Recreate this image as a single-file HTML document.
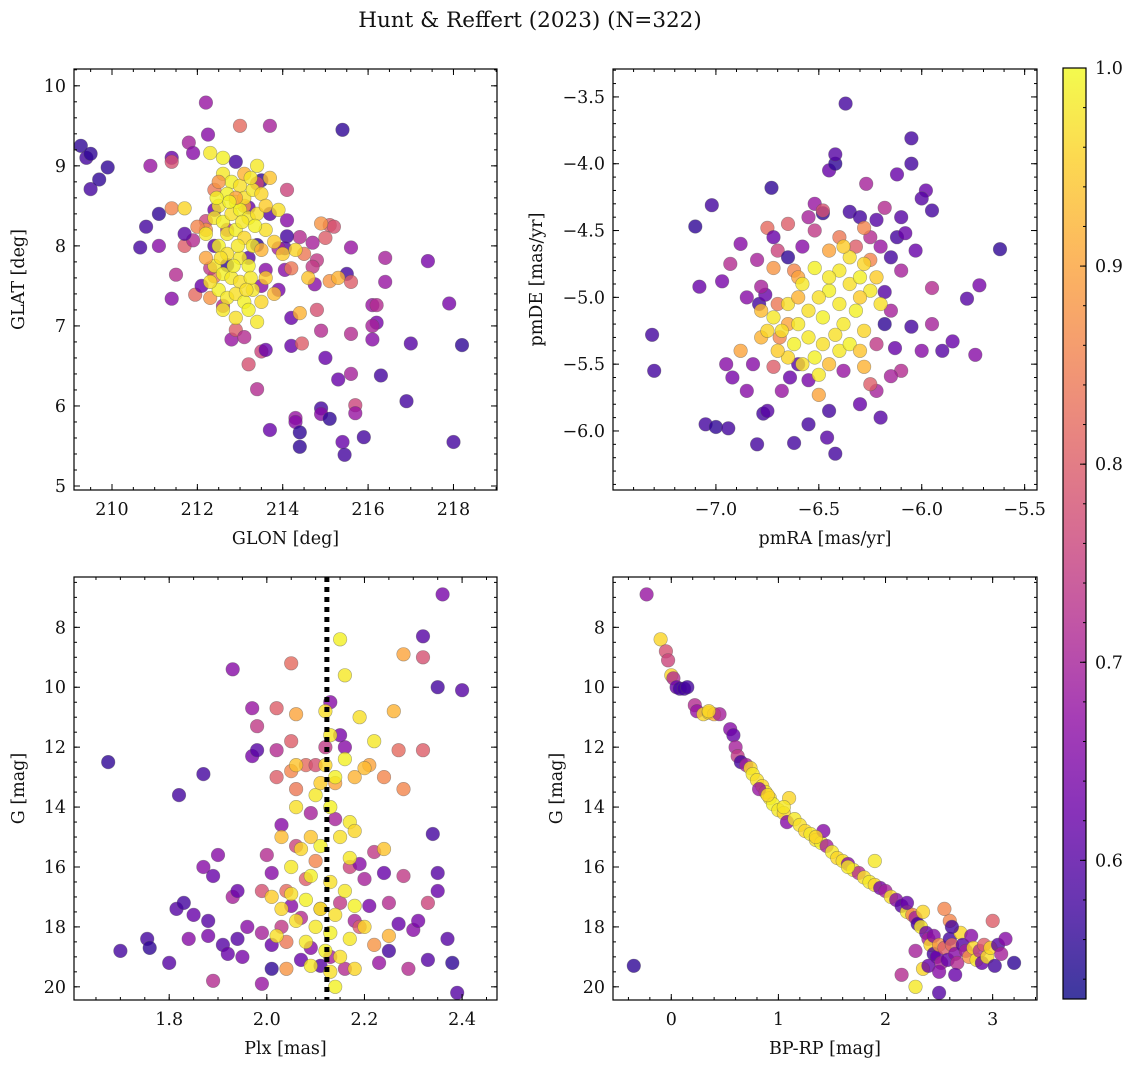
<!DOCTYPE html>
<html><head><meta charset="utf-8">
<style>
html,body{margin:0;padding:0;background:#fff;}
svg{display:block;font-family:"DejaVu Serif","Liberation Serif",serif;}
</style></head>
<body>
<svg id="fig" width="1136" height="1067" viewBox="0 0 1136 1067" xmlns="http://www.w3.org/2000/svg">
<text x="530" y="27" font-size="21.5" text-anchor="middle" fill="#111">Hunt &amp; Reffert (2023) (N=322)</text>
</svg>
<script>
// ---------- data ----------
const glonGlat = [
[209.27,9.25,.56],[209.4,9.1,.58],[209.5,9.15,.56],[209.5,8.71,.58],[209.7,8.83,.56],[209.9,8.98,.56],[210.9,9.0,.68],[211.4,9.1,.62],[212.2,9.79,.68],[212.25,9.39,.66],[213.0,9.5,.82],[213.7,9.5,.70],[215.4,9.45,.56],[211.8,9.29,.70],[211.9,9.16,.66],[210.66,7.98,.58],[210.8,8.24,.58],[211.1,8.4,.56],[211.1,8.0,.66],[211.4,8.47,.86],[211.4,9.05,.78],[211.7,8.47,.96],[211.5,7.64,.72],[211.4,7.34,.66],[211.7,8.0,.80],[211.9,8.07,.72],[211.95,7.39,.82],[212.1,7.5,.62],[212.3,9.16,.98],[212.8,6.83,.68],[212.9,6.95,.80],[213.1,6.86,.72],[213.2,6.52,.78],[213.4,6.21,.72],[213.5,6.68,.76],[213.6,6.7,.62],[213.7,5.7,.62],[214.2,7.1,.62],[214.2,6.75,.62],[214.4,7.16,.92],[214.45,6.78,.80],[214.3,5.85,.68],[214.3,5.8,.66],[214.4,5.49,.56],[214.4,5.67,.56],[214.9,5.97,.58],[214.9,5.9,.66],[215.1,5.84,.56],[214.9,6.94,.72],[214.8,7.2,.78],[215.0,6.6,.62],[215.3,6.33,.62],[215.4,5.55,.62],[215.45,5.39,.58],[215.6,6.9,.72],[215.6,6.4,.70],[215.7,6.01,.76],[215.7,5.91,.68],[215.9,5.61,.58],[216.1,7.26,.68],[216.2,7.26,.72],[216.2,7.04,.64],[216.1,7.0,.70],[216.1,6.83,.66],[216.3,6.38,.58],[216.4,7.55,.68],[216.4,7.85,.70],[216.9,6.06,.58],[217.0,6.78,.60],[217.4,7.81,.64],[217.9,7.28,.64],[218.0,5.55,.58],[218.2,6.76,.56],[215.6,7.98,.68],[215.5,7.65,.58],[215.6,7.55,.80],[215.1,7.56,.88],[215.1,8.26,.80],[215.2,8.24,.78],[215.0,8.1,.80],[214.8,7.82,.74],[214.75,7.52,.66],[214.7,7.74,.74],[214.5,7.9,.84],[214.4,8.11,.72],[214.7,8.04,.70],[214.1,8.32,.66],[214.1,8.12,.58],[214.1,8.7,.76],[214.05,7.97,.60],[214.05,7.7,.66],[213.9,7.97,.70],[213.7,8.4,.60],[213.5,8.82,.56],[213.4,8.78,.76],[213.2,8.48,.62],[212.9,9.05,.58],[213.1,8.5,.88],[213.5,7.5,.66],[213.9,7.45,.64],[214.2,7.72,.84],[213.6,7.7,.66],[212.7,7.76,.56],[213.2,7.85,.60],[213.4,8.01,.56],[212.7,8.2,.72],[212.4,8.45,.62],[212.2,8.31,.76],[212.4,8.0,.60],[212.4,7.62,.84],[212.3,7.72,.74],[212.3,7.35,.88],[212.6,7.25,.72],[212.2,8.2,.88],[212.4,8.7,.84],[211.7,8.15,.60],[212.0,8.24,.86],
[212.6,8.9,.98],[212.8,8.8,.99],[213.0,8.75,.97],[212.7,8.65,.99],[212.5,8.5,.98],[212.9,8.55,.99],[213.1,8.6,.97],[213.3,8.7,.98],[213.5,8.65,.96],[212.4,8.35,.98],[212.6,8.3,.99],[212.8,8.4,.97],[213.0,8.45,.99],[213.2,8.35,.98],[213.4,8.4,.97],[213.6,8.5,.95],[212.7,8.15,.98],[212.9,8.2,.99],[213.1,8.1,.96],[213.3,8.0,.98],[212.5,8.0,.99],[213.6,8.2,.97],[213.8,8.05,.95],[213.4,9.0,.98],[212.6,9.1,.99],[213.7,8.85,.94],[212.7,7.9,.97],[213.0,7.85,.98],[213.2,7.75,.99],[212.4,7.75,.98],[212.6,7.65,.99],[212.8,7.6,.98],[213.0,7.55,.97],[212.5,7.45,.99],[212.7,7.35,.98],[212.9,7.4,.97],[213.1,7.3,.99],[213.3,7.45,.98],[213.5,7.3,.96],[212.6,7.2,.98],[212.9,7.1,.97],[213.2,7.2,.99],[213.4,7.05,.98],[212.3,7.55,.97],[213.6,7.6,.95],[214.0,7.9,.95],[214.3,7.95,.96],[213.9,8.45,.97],[212.2,8.15,.98],[212.9,8.6,.9],[213.1,8.9,.92],[212.5,8.8,.88],[213.5,7.95,.92],[212.2,7.85,.9],[213.8,7.4,.93],[214.6,7.6,.94],[215.3,7.6,.92],[214.9,8.28,.88],
[212.75,8.55,.99],[213.05,8.3,.98],[212.85,7.75,.99],[213.25,7.6,.98],[212.55,7.85,.97],[213.35,8.25,.99],[212.95,8.0,.98],[213.15,7.45,.97],[212.45,8.6,.99],[213.25,8.85,.98]
];
const pmraPmde = [
[-7.31,-5.28,.58],[-7.30,-5.55,.58],[-7.10,-4.47,.56],[-7.02,-4.31,.58],[-7.08,-4.92,.62],[-6.88,-4.60,.66],[-6.93,-4.75,.72],[-6.97,-4.88,.64],[-7.05,-5.95,.58],[-7.00,-5.97,.56],[-6.94,-5.98,.58],[-6.95,-5.50,.66],[-6.92,-5.60,.64],[-6.88,-5.40,.90],[-6.85,-5.70,.66],[-6.80,-6.10,.58],[-6.77,-5.87,.58],[-6.75,-5.85,.60],[-6.79,-5.05,.58],[-6.76,-4.98,.62],[-6.73,-4.18,.56],[-6.75,-4.48,.82],[-6.72,-4.55,.62],[-6.70,-4.65,.76],[-6.80,-4.72,.70],[-6.65,-4.45,.80],[-6.62,-4.80,.86],[-6.55,-4.40,.70],[-6.52,-4.30,.68],[-6.48,-4.37,.56],[-6.45,-4.05,.62],[-6.42,-4.00,.56],[-6.42,-3.93,.60],[-6.37,-3.55,.58],[-6.35,-4.36,.58],[-6.30,-4.40,.58],[-6.27,-4.15,.70],[-6.22,-4.42,.60],[-6.18,-4.33,.72],[-6.12,-4.08,.62],[-6.10,-4.40,.60],[-6.05,-4.00,.58],[-6.05,-3.81,.58],[-5.98,-4.20,.62],[-6.00,-4.26,.60],[-5.95,-4.35,.58],[-5.62,-4.64,.56],[-5.72,-4.91,.64],[-5.78,-5.01,.60],[-5.85,-5.33,.62],[-5.90,-5.40,.60],[-5.74,-5.43,.66],[-5.95,-5.20,.70],[-5.95,-4.93,.72],[-6.03,-4.65,.62],[-6.05,-5.22,.58],[-6.00,-5.40,.66],[-6.10,-5.55,.72],[-6.15,-5.59,.70],[-6.13,-5.38,.62],[-6.18,-5.20,.56],[-6.22,-5.70,.70],[-6.30,-5.80,.62],[-6.38,-5.55,.68],[-6.45,-5.85,.58],[-6.42,-6.17,.58],[-6.46,-6.05,.60],[-6.50,-5.73,.90],[-6.55,-5.62,.64],[-6.60,-5.50,.60],[-6.64,-5.60,.62],[-6.68,-5.70,.68],[-6.62,-6.09,.58],[-6.55,-5.95,.58],[-6.72,-5.52,.80],[-6.69,-5.30,.86],[-6.25,-5.65,.80],[-6.20,-5.90,.60],[-6.28,-5.52,.92],[-6.10,-4.80,.70],[-6.15,-4.70,.58],[-6.20,-4.62,.68],[-6.25,-4.55,.72],[-6.12,-4.55,.58],[-6.08,-4.52,.62],[-6.18,-4.96,.60],[-6.25,-4.72,.86],[-6.15,-5.10,.70],[-6.22,-5.35,.74],[-6.32,-4.62,.80],[-6.40,-4.55,.84],[-6.45,-4.65,.90],[-6.52,-4.50,.74],[-6.58,-4.62,.66],[-6.65,-4.70,.56],[-6.60,-4.85,.90],[-6.72,-4.78,.88],[-6.78,-4.92,.70],[-6.85,-5.00,.66],[-6.70,-5.05,.84],[-6.65,-5.20,.90],[-6.78,-5.30,.92],[-6.82,-5.50,.66],[-6.48,-4.35,.78],[-6.28,-4.48,.86],
[-6.40,-4.80,.98],[-6.35,-4.90,.97],[-6.30,-4.85,.99],[-6.25,-4.95,.98],[-6.45,-4.95,.99],[-6.50,-5.00,.97],[-6.40,-5.05,.98],[-6.32,-5.10,.99],[-6.55,-5.10,.97],[-6.60,-5.20,.98],[-6.48,-5.15,.99],[-6.38,-5.20,.98],[-6.28,-5.25,.96],[-6.55,-5.30,.98],[-6.62,-5.35,.99],[-6.48,-5.35,.97],[-6.40,-5.40,.98],[-6.52,-5.45,.99],[-6.68,-5.25,.97],[-6.72,-5.15,.98],[-6.75,-5.25,.96],[-6.45,-4.85,.98],[-6.35,-4.70,.97],[-6.28,-4.75,.96],[-6.52,-4.78,.99],[-6.58,-4.90,.98],[-6.42,-5.28,.97],[-6.35,-5.35,.99],[-6.58,-5.50,.97],[-6.50,-5.58,.98],[-6.65,-5.45,.96],[-6.30,-5.00,.95],[-6.20,-5.05,.97],[-6.22,-4.85,.95],[-6.65,-5.05,.97],[-6.60,-5.00,.92],[-6.45,-5.50,.93],[-6.30,-5.40,.94],[-6.38,-4.62,.95],[-6.70,-5.40,.95],[-6.78,-5.10,.93]
];
const plxG = [
[1.675,12.5,.56],[1.70,18.8,.58],[1.755,18.4,.58],[1.76,18.7,.56],[1.80,19.2,.60],[1.815,17.4,.60],[1.82,13.6,.58],[1.83,17.2,.58],[1.84,18.4,.66],[1.85,17.6,.62],[1.87,12.9,.58],[1.87,16.0,.66],[1.88,17.8,.60],[1.89,16.3,.62],[1.88,18.3,.64],[1.89,19.8,.72],[1.90,15.6,.66],[1.91,18.6,.60],[1.92,18.9,.62],[1.93,9.4,.66],[1.93,17.0,.70],[1.94,16.8,.62],[1.94,18.4,.60],[1.95,19.0,.64],[1.96,18.0,.66],[1.97,12.3,.64],[1.98,12.1,.60],[1.97,10.7,.68],[1.98,11.3,.74],[1.99,19.9,.68],[1.99,18.2,.70],[1.99,16.8,.78],[2.00,15.6,.72],[2.01,16.2,.66],[2.01,18.6,.62],[2.01,19.4,.56],[2.02,10.7,.80],[2.02,12.1,.72],[2.02,13.0,.80],[2.03,14.6,.66],[2.03,18.0,.74],[2.04,19.4,.88],[2.04,18.5,.84],[2.04,16.8,.82],[2.05,9.2,.82],[2.05,11.8,.80],[2.05,12.8,.86],[2.06,10.9,.90],[2.06,13.4,.84],[2.06,15.3,.76],[2.07,17.7,.72],[2.07,19.1,.62],[2.08,12.6,.82],[2.08,16.4,.80],[2.09,14.2,.70],[2.09,18.7,.66],[2.10,12.6,.78],[2.10,15.8,.86],[2.11,19.3,.60],[2.11,17.4,.82],[2.13,19.0,.70],[2.14,13.2,.90],[2.15,17.2,.74],[2.16,12.0,.66],[2.16,19.4,.72],[2.17,16.0,.76],[2.18,17.8,.70],[2.18,13.0,.92],[2.19,15.9,.66],[2.19,18.0,.80],[2.20,16.4,.70],[2.21,12.6,.90],[2.21,17.3,.64],[2.22,18.6,.88],[2.22,15.5,.74],[2.23,19.2,.68],[2.24,16.2,.62],[2.24,13.0,.86],[2.25,17.2,.72],[2.25,18.8,.58],[2.26,10.8,.92],[2.27,17.9,.62],[2.27,12.1,.82],[2.28,8.9,.90],[2.28,13.4,.86],[2.28,16.3,.74],[2.29,19.4,.72],[2.30,18.1,.66],[2.31,17.8,.64],[2.32,8.3,.60],[2.32,9.0,.78],[2.32,12.1,.80],[2.33,17.2,.76],[2.33,19.1,.60],[2.34,14.9,.58],[2.35,10.0,.58],[2.35,16.2,.60],[2.35,16.8,.62],[2.36,6.9,.64],[2.37,18.4,.60],[2.38,19.2,.56],[2.39,20.2,.60],[2.40,10.1,.60],[2.12,12.0,.74],[2.13,10.5,.66],[2.15,11.6,.64],[2.14,14.4,.70],[2.05,17.3,.66],
[2.15,8.4,.99],[2.16,9.6,.98],[2.12,10.8,.97],[2.13,11.6,.98],[2.16,12.4,.99],[2.19,11.0,.97],[2.22,11.8,.98],[2.12,12.6,.96],[2.14,13.0,.99],[2.10,13.6,.98],[2.06,14.0,.97],[2.13,14.0,.99],[2.17,14.5,.98],[2.15,15.0,.97],[2.11,15.3,.99],[2.07,15.4,.96],[2.17,15.7,.98],[2.05,16.0,.98],[2.09,16.3,.99],[2.13,16.5,.97],[2.16,16.8,.98],[2.05,16.9,.97],[2.08,17.1,.99],[2.11,17.4,.98],[2.14,17.6,.97],[2.18,17.3,.99],[2.03,17.4,.96],[2.06,17.8,.97],[2.10,18.0,.98],[2.13,18.2,.99],[2.17,18.4,.98],[2.20,18.0,.96],[2.02,18.3,.97],[2.08,18.5,.98],[2.12,18.8,.99],[2.15,19.0,.97],[2.18,19.4,.96],[2.09,19.3,.98],[2.14,20.0,.99],[2.13,19.5,.97],[2.11,13.2,.95],[2.09,15.0,.94],[2.18,14.8,.96],[2.20,12.7,.93],[2.06,12.6,.94],[2.03,15.0,.93],[2.01,17.0,.95],[2.24,15.4,.94],[2.25,18.3,.92]
];
const bprpG = [
[-0.23,6.9,.68],[-0.35,19.3,.56],[2.28,20.0,.98],[2.5,20.2,.6],
[-0.1,8.4,.96],[-0.05,8.8,.78],[-0.03,9.1,.76],[0.0,9.6,.96],[0.02,9.7,.72],[0.05,10.0,.62],[0.08,10.05,.58],[0.12,10.05,.58],[0.22,10.6,.72],[0.24,10.8,.68],[0.30,10.9,.96],[0.35,10.85,.96],[0.40,10.9,.92],[0.45,10.9,.70],[0.55,11.4,.66],[0.58,11.6,.62],[0.60,12.0,.70],[0.62,12.3,.74],[0.65,12.5,.58],[0.70,12.6,.70],[0.74,12.7,.96],[0.76,12.9,.98],[0.80,13.1,.97],[0.85,13.3,.96],[0.88,13.5,.98],[0.82,13.4,.68],[0.92,13.7,.97],[0.95,13.9,.99],[1.00,14.1,.98],[1.05,14.2,.96],[1.10,13.7,.96],[1.08,14.5,.66],[1.15,14.4,.98],[1.20,14.6,.97],[1.25,14.8,.96],[1.30,14.9,.98],[1.35,15.1,.97],[1.40,15.2,.99],[1.42,14.8,.66],[1.45,15.3,.70],[1.50,15.5,.98],[1.55,15.7,.96],[1.60,15.8,.97],[1.65,15.9,.66],[1.70,16.1,.98],[1.75,16.2,.72],[1.80,16.35,.97],[1.85,16.5,.98],[1.90,16.6,.96],[1.90,15.8,.98],[1.95,16.7,.64],[2.00,16.8,.70],[2.05,17.0,.97],[2.10,17.1,.66],[2.15,17.3,.60],[2.20,17.5,.98],[2.25,17.6,.86],[2.28,17.7,.70],[2.30,17.9,.58],[2.33,18.0,.98],[2.35,17.5,.96],[2.38,18.2,.62],[2.40,18.4,.70],[2.42,18.6,.96],[2.45,18.9,.58],[2.45,18.3,.66],[2.48,19.0,.62],[2.50,18.6,.88],[2.52,19.2,.70],[2.55,18.7,.80],[2.58,19.1,.62],[2.60,17.8,.86],[2.60,18.4,.58],[2.62,18.6,.82],[2.65,18.9,.66],[2.67,19.2,.72],[2.70,18.2,.96],[2.72,18.6,.60],[2.75,18.8,.70],[2.78,19.0,.88],[2.80,18.3,.66],[2.82,18.7,.96],[2.85,19.1,.98],[2.88,18.8,.72],[2.90,19.2,.62],[2.92,18.6,.80],[2.95,19.0,.97],[2.98,18.7,.96],[3.00,17.8,.80],[3.02,19.3,.58],[3.05,18.6,.60],[3.08,18.9,.70],[3.12,18.4,.66],[3.20,19.2,.56],[2.28,18.8,.70],[2.55,17.4,.86],[2.35,19.4,.96],[2.40,19.3,.62],[2.15,19.6,.72],[2.65,19.6,.62],[2.50,19.5,.66],[2.20,17.2,.62],[1.65,16.0,.98],[1.35,15.0,.96],[1.05,14.0,.98],[0.9,13.6,.96],[0.15,10.0,.58],[0.35,10.8,.96],[2.62,18.0,.58]
];
const plxRef = [2.123];
const ticksGlon = [210,212,214,216,218];
const ticksGlat = [5,6,7,8,9,10];
const ticksPmra = [-7.0,-6.5,-6.0,-5.5];
const ticksPmde = [-6.0,-5.5,-5.0,-4.5,-4.0,-3.5];
const ticksPlx = [1.8,2.0,2.2,2.4];
const ticksG = [8,10,12,14,16,18,20];
const ticksBprp = [0,1,2,3];
const ticksCbar = [0.6,0.7,0.8,0.9,1.0];
const cRange = [0.530,1.0];

// ---------- helpers ----------
const svg = document.getElementById('fig');
const NS = 'http://www.w3.org/2000/svg';
const FS = 17.5;
function mk(tag, attrs, parent){const e=document.createElementNS(NS,tag);for(const k in attrs)e.setAttribute(k,attrs[k]);(parent||svg).appendChild(e);return e;}
const plasma=[[13,8,135],[65,4,157],[106,0,168],[143,13,164],[177,42,144],[204,71,120],[225,100,98],[242,132,75],[252,166,54],[252,206,37],[240,249,33]];
function cmap(v){let t=(v-cRange[0])/(cRange[1]-cRange[0]);t=Math.max(0,Math.min(1,t))*10;const i=Math.min(9,Math.floor(t)),f=t-i;const a=plasma[i],b=plasma[i+1];return 'rgb('+a.map((c,j)=>Math.round(c+(b[j]-c)*f)).join(',')+')';}
function fmt(v,d){const s=Math.abs(v).toFixed(d);return (v<0?'\u2212':'')+s;}

function panel(cfg){
  const g=mk('g',{});
  
  
  const {x0,x1,y0,y1,xd,yd}=cfg;
  const sx=v=>x0+(v-xd[0])/(xd[1]-xd[0])*(x1-x0);
  const sy=v=>y1-(v-yd[0])/(yd[1]-yd[0])*(y1-y0);
  const clip=mk('clipPath',{id:'clip-'+cfg.name},g);
  mk('rect',{x:x0,y:y0,width:x1-x0,height:y1-y0},clip);
  const pts=mk('g',{'clip-path':'url(#clip-'+cfg.name+')'},g);
  
  
  cfg.data.forEach(d=>{
    const c=mk('circle',{cx:sx(d[0]).toFixed(1),cy:sy(d[1]).toFixed(1),r:6.8,fill:cmap(d[2]),'fill-opacity':0.8,stroke:'#555','stroke-opacity':0.5,'stroke-width':0.6},pts);
    
    
  });
  if(cfg.vline){cfg.vline.forEach(v=>{
    const l=mk('line',{x1:sx(v),x2:sx(v),y1:y0,y2:y1,stroke:'#000','stroke-width':5,'stroke-dasharray':'5 5'},g);
    
    
  });}
  const fr=mk('rect',{x:x0,y:y0,width:x1-x0,height:y1-y0,fill:'none',stroke:'#000','stroke-width':1.2},g);
  
  
  const tk=mk('g',{stroke:'#000','stroke-width':1},g);
  const xmin=Math.min(xd[0],xd[1]),xmax=Math.max(xd[0],xd[1]);
  for(let v=Math.ceil(xmin/cfg.xminor)*cfg.xminor;v<=xmax+1e-9;v+=cfg.xminor){const X=sx(v);mk('line',{x1:X,x2:X,y1:y1,y2:y1-3},tk);mk('line',{x1:X,x2:X,y1:y0,y2:y0+3},tk);}
  const ymin=Math.min(yd[0],yd[1]),ymax=Math.max(yd[0],yd[1]);
  for(let v=Math.ceil(ymin/cfg.yminor)*cfg.yminor;v<=ymax+1e-9;v+=cfg.yminor){const Y=sy(v);mk('line',{x1:x0,x2:x0+3,y1:Y,y2:Y},tk);mk('line',{x1:x1,x2:x1-3,y1:Y,y2:Y},tk);}
  cfg.xt.forEach(v=>{const X=sx(v);mk('line',{x1:X,x2:X,y1:y1,y2:y1-6},tk);mk('line',{x1:X,x2:X,y1:y0,y2:y0+6},tk);
    const t=mk('text',{x:X,y:y1+25,'font-size':FS,'text-anchor':'middle',fill:'#111'},g);t.textContent=fmt(v,cfg.xdec);
    });
  cfg.yt.forEach(v=>{const Y=sy(v);mk('line',{x1:x0,x2:x0+6,y1:Y,y2:Y},tk);mk('line',{x1:x1,x2:x1-6,y1:Y,y2:Y},tk);
    const t=mk('text',{x:x0-8,y:Y+6,'font-size':FS,'text-anchor':'end',fill:'#111'},g);t.textContent=fmt(v,cfg.ydec);
    });
  const xl=mk('text',{x:(x0+x1)/2,y:y1+54,'font-size':FS,'text-anchor':'middle',fill:'#111'},g);xl.textContent=cfg.xlabel;
  
  const yl=mk('text',{x:0,y:0,'font-size':FS,'text-anchor':'middle',fill:'#111',transform:'translate('+cfg.ylx+','+(y0+y1)/2+') rotate(-90)'},g);yl.textContent=cfg.ylabel;
  
}

panel({name:'glon-glat-panel',x0:74,x1:497,y0:69,y1:490,xd:[209.11,219.02],yd:[4.95,10.21],data:glonGlat,xt:ticksGlon,yt:ticksGlat,xminor:0.5,yminor:0.2,xdec:0,ydec:0,xlabel:'GLON [deg]',ylabel:'GLAT [deg]',ylx:24});
panel({name:'pm-panel',x0:613,x1:1037,y0:69,y1:490,xd:[-7.5,-5.44],yd:[-6.4418,-3.291],data:pmraPmde,xt:ticksPmra,yt:ticksPmde,xminor:0.1,yminor:0.1,xdec:1,ydec:1,xlabel:'pmRA [mas/yr]',ylabel:'pmDE [mas/yr]',ylx:542});
panel({name:'plx-g-panel',x0:74,x1:497,y0:577,y1:1000,xd:[1.605,2.4715],yd:[20.44,6.32],data:plxG,xt:ticksPlx,yt:ticksG,xminor:0.05,yminor:0.5,xdec:1,ydec:0,xlabel:'Plx [mas]',ylabel:'G [mag]',ylx:24,vline:plxRef});
panel({name:'cmd-panel',x0:613,x1:1037,y0:577,y1:1000,xd:[-0.544,3.414],yd:[20.44,6.32],data:bprpG,xt:ticksBprp,yt:ticksG,xminor:0.2,yminor:0.5,xdec:0,ydec:0,xlabel:'BP-RP [mag]',ylabel:'G [mag]',ylx:562});

// colorbar
(function(){
  const cx0=1063,cx1=1086,cy0=68,cy1=999;
  const cg=mk('g',{});
  
  
  const defs=mk('defs',{},cg);
  const lg=mk('linearGradient',{id:'cbgrad',x1:0,y1:1,x2:0,y2:0},defs);
  for(let i=0;i<=20;i++){const v=cRange[0]+(cRange[1]-cRange[0])*i/20;mk('stop',{offset:(i/20),'stop-color':cmap(v),'stop-opacity':0.8},lg);}
  mk('rect',{x:cx0,y:cy0,width:cx1-cx0,height:cy1-cy0,fill:'url(#cbgrad)',stroke:'#000','stroke-width':1.2},cg);
  const sy=v=>cy1-(v-cRange[0])/(cRange[1]-cRange[0])*(cy1-cy0);
  for(let v=0.54;v<=1.0001;v+=0.02){const Y=sy(v);mk('line',{x1:cx1,x2:cx1-3,y1:Y,y2:Y,stroke:'#000'},cg);}
  ticksCbar.forEach(v=>{const Y=sy(v);mk('line',{x1:cx1,x2:cx1-6,y1:Y,y2:Y,stroke:'#000'},cg);
    const t=mk('text',{x:cx1+9,y:Y+6,'font-size':FS,fill:'#111'},cg);t.textContent=v.toFixed(1);
    });
})();
</script>
</body></html>
